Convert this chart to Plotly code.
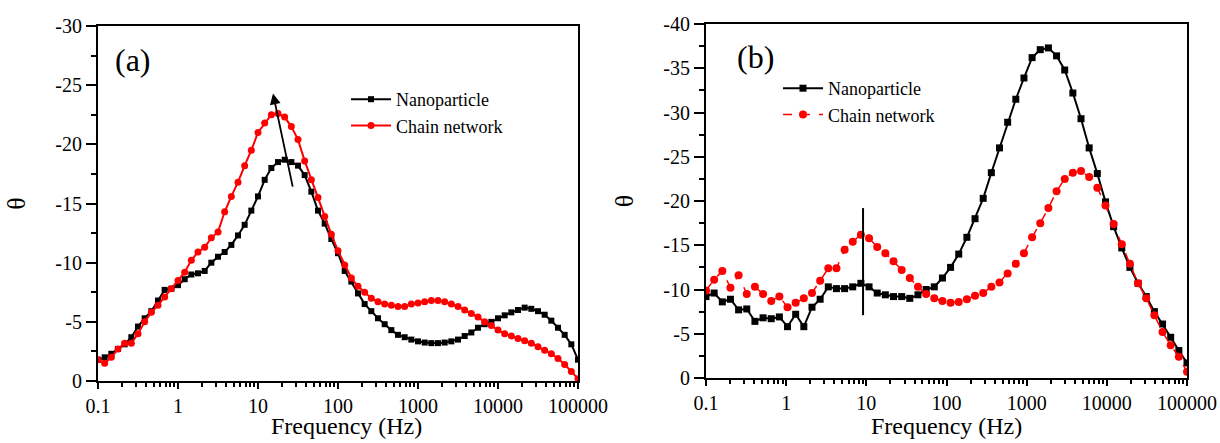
import math
import plotly.graph_objects as go

# ---------------- data ----------------
# panel (a): frequency grid (12 points per decade, 0.1 Hz .. 100 kHz)
mantissa_a = [1.0, 1.212, 1.468, 1.778, 2.154, 2.610, 3.162, 3.831, 4.642, 5.623, 6.813, 8.254]
decades_a = [0.1, 1, 10, 100, 1000, 10000]
freq_a = [m * d for d in decades_a for m in mantissa_a] + [100000]

nano_a = [-1.8, -2.0, -2.3, -2.7, -3.1, -3.7, -4.6, -5.3, -5.9, -6.8,
          -7.7, -7.8, -8.1, -8.6, -9.0, -9.1, -9.3, -10.0, -10.5, -10.9,
          -11.5, -12.3, -13.2, -14.4, -15.6, -17.0, -18.0, -18.5, -18.7, -18.5,
          -18.2, -17.4, -16.0, -14.4, -13.3, -12.0, -10.8, -9.3, -8.4, -7.4,
          -6.5, -5.9, -5.3, -4.8, -4.3, -3.9, -3.7, -3.5, -3.35, -3.25,
          -3.2, -3.2, -3.25, -3.35, -3.5, -3.8, -4.1, -4.5, -4.8, -5.0,
          -5.3, -5.55, -5.8, -6.0, -6.2, -6.1, -5.9, -5.6, -5.1, -4.5,
          -3.9, -3.1, -1.8]
chain_a = [-1.8, -1.5, -2.0, -2.7, -3.2, -3.2, -4.0, -5.0, -5.8, -6.4,
           -7.1, -7.8, -8.5, -9.2, -10.2, -10.9, -11.3, -12.1, -12.6, -14.3,
           -15.6, -16.8, -18.2, -19.5, -21.0, -21.8, -22.5, -22.6, -22.3, -21.5,
           -20.4, -18.6, -17.0, -15.5, -13.9, -12.4, -11.0, -9.8, -8.7, -8.0,
           -7.5, -7.0, -6.7, -6.5, -6.4, -6.3, -6.3, -6.5, -6.6, -6.7,
           -6.8, -6.8, -6.7, -6.5, -6.3, -6.0, -5.7, -5.4, -5.0, -4.7,
           -4.3, -4.0, -3.8, -3.6, -3.4, -3.2, -2.9, -2.6, -2.3, -1.9,
           -1.4, -0.8, -0.2]

# panel (b): 60 log-spaced frequencies, 0.1 Hz .. 100 kHz
freq_b = [0.1, 0.1264, 0.1598, 0.2019, 0.2551, 0.3225, 0.4076, 0.5151, 0.6511, 0.8229,
          1.040, 1.314, 1.661, 2.099, 2.653, 3.353, 4.238, 5.356, 6.769, 8.555,
          10.81, 13.67, 17.27, 21.83, 27.59, 34.87, 44.07, 55.70, 70.40, 88.97,
          112.4, 142.1, 179.6, 227.0, 286.9, 362.6, 458.2, 579.1, 731.9, 925.0,
          1169, 1477, 1867, 2360, 2983, 3770, 4764, 6021, 7610, 9618,
          12155, 15362, 19416, 24538, 31012, 39194, 49535, 62603, 79121, 100000]
nano_b = [-9.2, -9.6, -8.6, -8.9, -7.7, -7.8, -6.4, -6.8, -6.7, -6.9,
          -5.8, -7.2, -5.8, -8.0, -8.9, -10.3, -10.1, -10.1, -10.3, -10.7,
          -10.3, -9.6, -9.4, -9.2, -9.2, -9.0, -9.4, -10.0, -10.3, -11.3,
          -12.5, -14.0, -15.9, -18.0, -20.3, -23.2, -26.0, -28.9, -31.5, -33.9,
          -36.2, -37.1, -37.3, -36.4, -34.8, -32.2, -29.3, -26.0, -23.1, -19.9,
          -17.1, -14.7, -12.5, -10.7, -9.2, -7.5, -6.1, -4.6, -3.1, -1.7]
chain_b = [-9.9, -11.1, -12.1, -10.2, -11.6, -9.5, -10.3, -9.5, -8.7, -9.2,
           -8.0, -8.5, -9.0, -9.6, -11.0, -12.4, -12.4, -14.5, -15.4, -16.2,
           -15.8, -14.8, -14.1, -13.2, -12.2, -11.3, -10.3, -9.5, -9.0, -8.7,
           -8.5, -8.6, -8.9, -9.3, -9.6, -10.3, -10.8, -11.8, -12.9, -14.1,
           -15.9, -17.5, -19.2, -21.1, -22.5, -23.2, -23.4, -22.7, -21.5, -19.5,
           -17.4, -15.1, -12.9, -10.7, -9.0, -7.1, -5.2, -3.7, -2.4, -0.7]

# marker line at ~10 Hz in panel (b)
vline_b_x = [9.1, 9.1]
vline_b_y = [-19.2, -7.1]

# arrow in panel (a): tail -> head
arrow_tail = (27.4, -16.3)
arrow_head = (15.4, -24.3)

x_tickvals = [0.1, 1, 10, 100, 1000, 10000, 100000]
x_ticktext = ["0.1", "1", "10", "100", "1000", "10000", "100000"]
ya_tickvals = [0, -5, -10, -15, -20, -25, -30]
yb_tickvals = [0, -5, -10, -15, -20, -25, -30, -35, -40]

series_names = ["Nanoparticle", "Chain network"]
x_title = "Frequency (Hz)"

# ---------------- figure ----------------
FONT = "Liberation Serif"
W, H = 1220, 443


def px_x(p):
    return p / W


def px_y(p):
    return 1 - p / H


fig = go.Figure()

fig.add_trace(go.Scatter(x=freq_a, y=nano_a, name=series_names[0], mode="lines+markers",
                         line=dict(color="black", width=2),
                         marker=dict(symbol="square", size=6, color="black"),
                         xaxis="x", yaxis="y", legend="legend"))
fig.add_trace(go.Scatter(x=freq_a, y=chain_a, name=series_names[1], mode="lines+markers",
                         line=dict(color="#ff0000", width=2),
                         marker=dict(symbol="circle", size=7, color="#ff0000"),
                         xaxis="x", yaxis="y", legend="legend"))
fig.add_trace(go.Scatter(x=freq_b, y=nano_b, name=series_names[0], mode="lines+markers",
                         line=dict(color="black", width=2),
                         marker=dict(symbol="square", size=7, color="black"),
                         xaxis="x2", yaxis="y2", legend="legend2"))
fig.add_trace(go.Scatter(x=freq_b, y=chain_b, name=series_names[1], mode="lines+markers",
                         line=dict(color="#ff0000", width=1.5, dash="dash"),
                         marker=dict(symbol="circle", size=8, color="#ff0000"),
                         xaxis="x2", yaxis="y2", legend="legend2"))
fig.add_trace(go.Scatter(x=vline_b_x, y=vline_b_y, mode="lines", showlegend=False,
                         line=dict(color="black", width=2), hoverinfo="skip",
                         xaxis="x2", yaxis="y2"))

tickfont = dict(family=FONT, size=20, color="black")
titlefont = dict(family=FONT, size=26, color="black")
xtitlefont = dict(family=FONT, size=24, color="black")


def xaxis_cfg(domain, anchor):
    return dict(domain=domain, type="log", range=[-1, 5], anchor=anchor,
                tickvals=x_tickvals, ticktext=x_ticktext,
                ticks="outside", ticklen=6, tickwidth=2, tickcolor="black",
                minor=dict(ticks="outside", ticklen=4, tickwidth=1.5, tickcolor="black", dtick="D1"),
                showline=True, linecolor="black", linewidth=2, mirror=True,
                showgrid=False, zeroline=False, tickfont=tickfont,
                ticklabeloverflow="allow",
                automargin=False)


def yaxis_cfg(domain, rng, vals, anchor):
    return dict(domain=domain, range=rng, anchor=anchor,
                tickvals=vals, ticktext=[str(v) for v in vals],
                ticks="outside", ticklen=10, tickwidth=2, tickcolor="black",
                minor=dict(ticks="outside", ticklen=5, tickwidth=1.5, tickcolor="black",
                           tickmode="linear", tick0=0, dtick=2.5),
                showline=True, linecolor="black", linewidth=2, mirror=True,
                showgrid=False, zeroline=False, tickfont=tickfont,
                title=dict(text="θ", font=titlefont, standoff=22),
                automargin=False)


legend_font = dict(family=FONT, size=18, color="black")

fig.update_layout(
    width=W, height=H, autosize=False,
    margin=dict(l=0, r=0, t=0, b=0),
    paper_bgcolor="white", plot_bgcolor="white",
    showlegend=True,
    xaxis=xaxis_cfg([px_x(98), px_x(578)], "y"),
    yaxis=yaxis_cfg([px_y(381), px_y(26)], [0, -30], ya_tickvals, "x"),
    xaxis2=xaxis_cfg([px_x(706), px_x(1187)], "y2"),
    yaxis2=yaxis_cfg([px_y(378), px_y(24)], [0, -40], yb_tickvals, "x2"),
    legend=dict(x=px_x(346), y=px_y(81), xanchor="left", yanchor="top",
                bgcolor="rgba(0,0,0,0)", font=legend_font, itemwidth=40, tracegroupgap=0),
    legend2=dict(x=px_x(778), y=px_y(70), xanchor="left", yanchor="top",
                 bgcolor="rgba(0,0,0,0)", font=legend_font, itemwidth=40, tracegroupgap=0),
    annotations=[
        dict(text="(a)", x=px_x(133), y=px_y(60), xref="paper", yref="paper",
             xanchor="center", yanchor="middle",
             showarrow=False, font=dict(family=FONT, size=32, color="black")),
        dict(text="(b)", x=px_x(755), y=px_y(57), xref="paper", yref="paper",
             xanchor="center", yanchor="middle",
             showarrow=False, font=dict(family=FONT, size=32, color="black")),
        dict(text=x_title, x=px_x(346), y=px_y(426), xref="paper", yref="paper",
             xanchor="center", yanchor="middle", showarrow=False, font=xtitlefont),
        dict(text=x_title, x=px_x(946), y=px_y(426), xref="paper", yref="paper",
             xanchor="center", yanchor="middle", showarrow=False, font=xtitlefont),
        dict(text="", x=math.log10(arrow_head[0]), y=arrow_head[1], xref="x", yref="y",
             ax=math.log10(arrow_tail[0]), ay=arrow_tail[1], axref="x", ayref="y",
             showarrow=True, arrowhead=2, arrowsize=1.2, arrowwidth=1.8, arrowcolor="black"),
    ],
)

# remove the default page margin so the figure fills the 1220x443 window exactly
post = ("document.body.style.margin='0px';"
        "document.documentElement.style.overflow='hidden';"
        "document.body.style.overflow='hidden';")
fig.write_html("out.html", post_script=post, config={"displayModeBar": False})
